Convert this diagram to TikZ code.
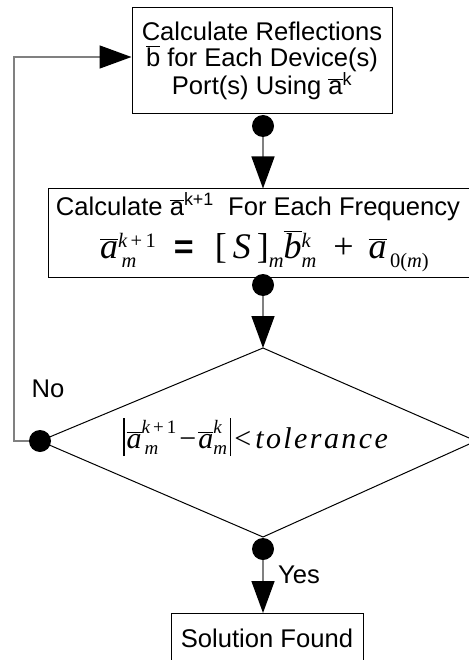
\documentclass[tikz,border=0pt]{standalone}
\usepackage{fontspec}
\setmainfont{Liberation Sans}
\newfontfamily\tnr{Liberation Serif}
\usetikzlibrary{arrows.meta}
% base, sup, sub, raise, lower
\newcommand\SupSub[5]{#1\begingroup
  \setbox0\hbox{\raisebox{#4}{#2}}\setbox2\hbox{\raisebox{-#5}{#3}}%
  \ifdim\wd0>\wd2 \rlap{\box2}\box0 \else \rlap{\box0}\box2 \fi\endgroup}
\newcommand\ovl[1]{$\overline{\hbox{#1}}$}
\newcommand\sA[1]{{\fontsize{20.5}{20.5}\selectfont\tnr #1}}
\newcommand\sB[1]{{\fontsize{19}{19}\selectfont\tnr #1}}
\begin{document}
\begin{tikzpicture}[x=1pt,y=-1pt,
  box/.style={draw=black, line width=1pt, inner sep=0pt},
  conn/.style={draw=black!50, line width=1.5pt, -{Triangle[length=32pt,width=23pt,color=black]}},
  dotn/.style={circle, fill=black, minimum size=22pt, inner sep=0pt},
  lbl/.style={font=\fontsize{25.6}{26}\selectfont, inner sep=0pt}]
\useasboundingbox (0,0) rectangle (468,660);
% box 1
\node[box, minimum width=260pt, minimum height=106pt, align=center,
      font=\fontsize{25.6}{26}\selectfont] (b1) at (262,61)
  {Calculate Reflections\\ \ovl{b} for Each Device(s)\\ Port(s) Using \ovl{a}\textsuperscript{k}};
% box 2
\node[box, minimum width=430pt, minimum height=88pt] (b2) at (263,233) {};
\node[lbl, anchor=base] (t2a) at (258,215)
  {Calculate \ovl{a}\textsuperscript{k+1}\ \ For Each Frequency};
\node[inner sep=0pt, anchor=base west, font=\fontsize{36}{40}\selectfont\tnr] (t2b) at (100,258)
  {\SupSub{\ovl{\itshape a}}{\sA{\itshape k\upshape\,+\,1}}{\sA{\itshape\,m}}{11pt}{9pt}%
   \hspace{18pt}{\fontsize{34}{34}\selectfont\sffamily\setmainfont{Liberation Sans}\bfseries =}\hspace{21pt}%
   [\,{\itshape S}\,]\SupSub{}{}{\sA{\itshape m}}{0pt}{9pt}%
   \SupSub{\ovl{\itshape b}}{\sA{\itshape k}}{\sA{\itshape m}}{11pt}{9pt}%
   \hspace{17pt}+\hspace{15pt}%
   \SupSub{\ovl{\itshape a}}{}{\sA{\,0(\itshape m\upshape)}}{0pt}{9pt}};
% diamond
\coordinate (dt) at (263,348);
\coordinate (dr) at (476,441);
\coordinate (db) at (263,537);
\coordinate (dl) at (40,441);
\draw[line width=1pt] (dt) -- (dr) -- (db) -- (dl) -- cycle;
\node[inner sep=0pt, anchor=base west, font=\fontsize{30}{34}\selectfont\tnr] (cond) at (123,448)
  {\rule[-8pt]{1.3pt}{38pt}\hspace{2pt}%
   \SupSub{\ovl{\itshape a}}{\sB{\itshape k\upshape\,+\,1}}{\sB{\itshape\,m}}{15pt}{6pt}%
   \hspace{3pt}−\hspace{2pt}%
   \SupSub{\ovl{\itshape a}}{\sB{\itshape k}}{\sB{\itshape m}}{15pt}{6pt}%
   \hspace{3pt}\rule[-8pt]{1.3pt}{38pt}\hspace{3pt}<\hspace{4pt}%
   {\itshape\addfontfeatures{LetterSpace=8}tolerance}};
% solution box
\node[box, minimum width=192pt, minimum height=57pt, anchor=north] (sol) at (267,613) {};
\node[lbl, anchor=base] (t3) at (267,647) {Solution Found};
% dots
\node[dotn] (d1) at (263,126) {};
\node[dotn] (d2) at (263,285) {};
\node[dotn] (d3) at (263,549) {};
\node[dotn] (d4) at (40,441) {};
% connectors
\draw[conn] (d1) -- (b2.north);
\draw[conn] (d2) -- (dt);
\draw[conn] (d3) -- (d3 |- sol.north);
\coordinate (lb) at (14,441);
\coordinate (lt) at (14,57);
\draw[conn] (d4) -- (lb) -- (lt) -- (lt -| b1.west);
% labels
\node[lbl] (no) at (48,389) {No};
\node[lbl] (yes) at (299,575) {Yes};
\end{tikzpicture}
\end{document}
